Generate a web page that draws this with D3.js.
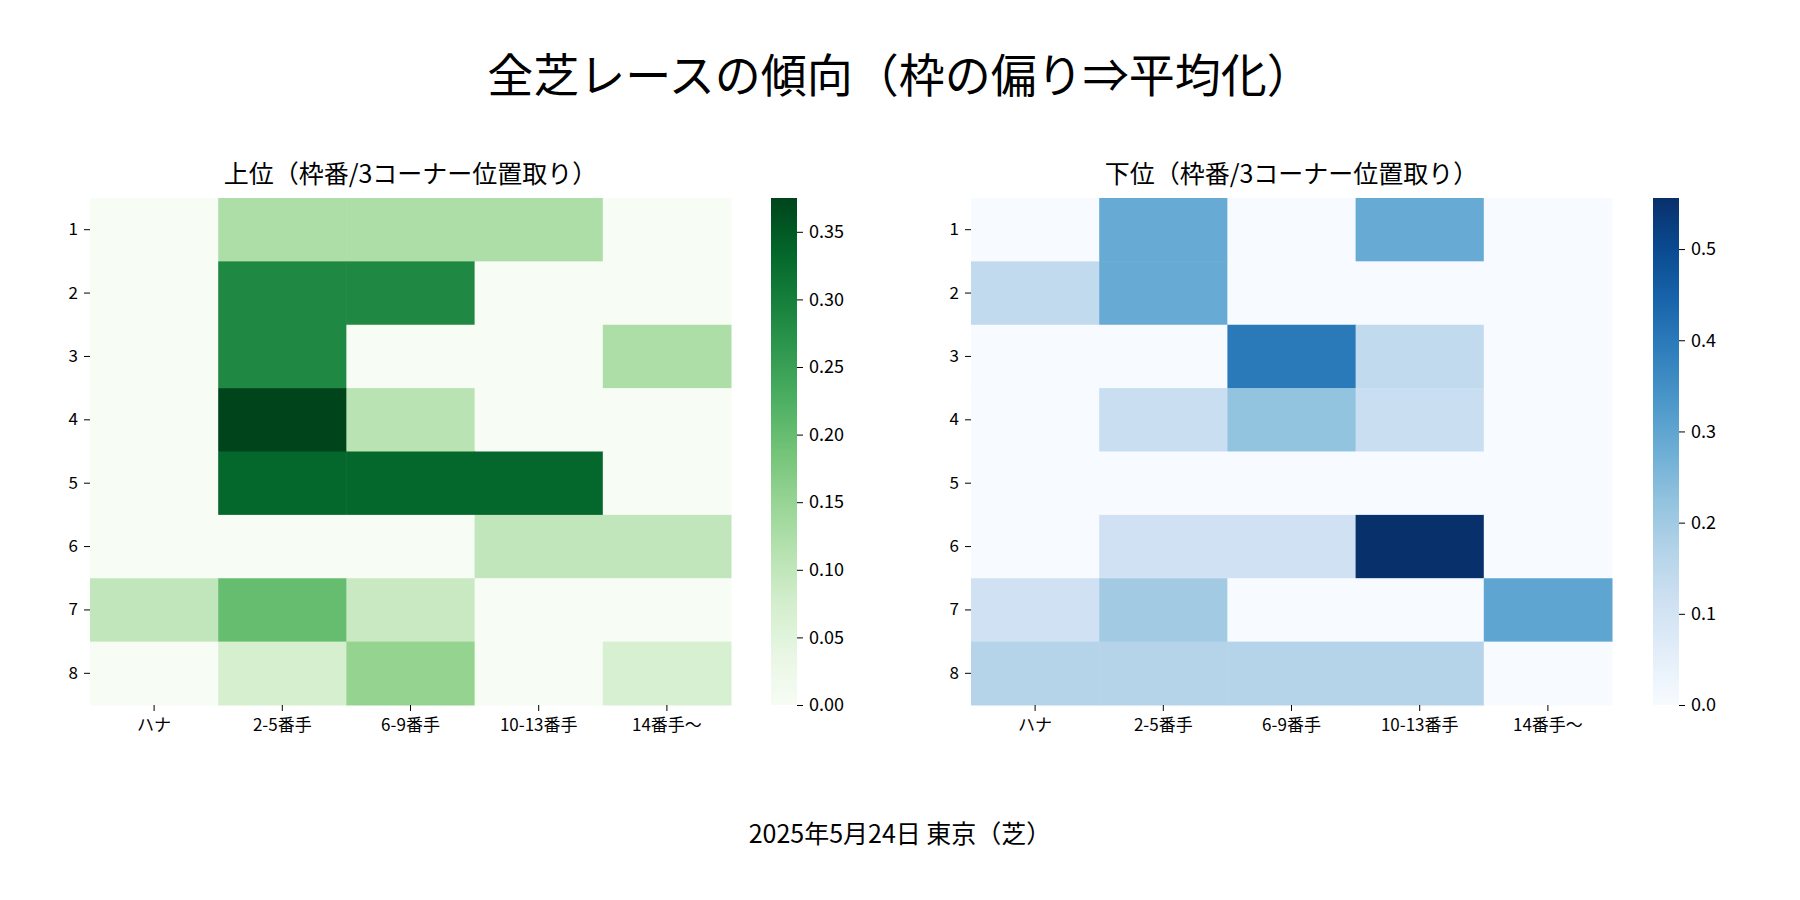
<!DOCTYPE html>
<html><head><meta charset="utf-8">
<script src="https://cdn.jsdelivr.net/npm/d3@7"></script>
<style>body{margin:0;background:#fff}text{font-family:"Noto Sans CJK JP",sans-serif}</style>
</head><body><svg id="chart" width="1800" height="900"></svg>
<script>
// ------ données ------
const rows = ["1","2","3","4","5","6","7","8"]
const cols = ["ハナ","2-5番手","6-9番手","10-13番手","14番手〜"]
const topValues = [
  [0,0.125,0.125,0.125,0],
  [0,0.286,0.286,0,0],
  [0,0.286,0,0,0.125],
  [0,0.375,0.111,0,0],
  [0,0.333,0.333,0.333,0],
  [0,0,0,0.1,0.1],
  [0.1,0.2,0.091,0,0],
  [0,0.071,0.154,0,0.067]
]
const bottomValues = [
  [0,0.286,0,0.286,0],
  [0.143,0.286,0,0,0],
  [0,0,0.4,0.143,0],
  [0,0.125,0.222,0.125,0],
  [0,0,0,0,0],
  [0,0.111,0.111,0.556,0],
  [0.111,0.2,0,0,0.3],
  [0.167,0.167,0.167,0.167,0]
]
const topTicks = [0,0.05,0.1,0.15,0.2,0.25,0.3,0.35]
const bottomTicks = [0,0.1,0.2,0.3,0.4,0.5]

const svg = d3.select("#chart")

svg.append("text").attr("x",900).attr("y",92).attr("text-anchor","middle")
  .attr("font-size",46).text("全芝レースの傾向（枠の偏り⇒平均化）")
svg.append("text").attr("x",900).attr("y",843).attr("text-anchor","middle")
  .attr("font-size",25).text("2025年5月24日 東京（芝）")

function heatmap(x0, cbx, values, interp, ticks, fmt, title) {
  const w = 641, h = 507, y0 = 198
  const x = d3.scaleBand().domain(cols).range([x0, x0 + w])
  const y = d3.scaleBand().domain(rows).range([y0, y0 + h])
  const vmax = d3.max(values.flat())
  const color = d3.scaleSequential(interp).domain([0, vmax])
  const g = svg.append("g")

  values.forEach((r, i) => r.forEach((v, j) => {
    g.append("rect").attr("x", x(cols[j])).attr("y", y(rows[i]))
      .attr("width", x.bandwidth() + 0.5).attr("height", y.bandwidth() + 0.5)
      .attr("fill", color(v))
  }))

  const ax = g.append("g").attr("transform", `translate(0,${y0 + h})`)
    .call(d3.axisBottom(x).tickSize(6).tickPadding(8))
  const ay = g.append("g").attr("transform", `translate(${x0},0)`)
    .call(d3.axisLeft(y).tickSize(6).tickPadding(6))
  ;[ax, ay].forEach(a => {
    a.select(".domain").remove()
    a.selectAll("text").attr("font-size", 17).attr("fill", "#000")
      .style("font-family", '"Noto Sans CJK JP",sans-serif')
  })

  g.append("text").attr("x", x0 + w / 2).attr("y", 183).attr("text-anchor", "middle")
    .attr("font-size", 25).text(title)

  // barre de couleur
  const cw = 26
  const cy = d3.scaleLinear().domain([0, vmax]).range([y0 + h, y0])
  const id = "grad" + x0
  const grad = svg.append("defs").append("linearGradient").attr("id", id)
    .attr("x1", 0).attr("y1", 1).attr("x2", 0).attr("y2", 0)
  d3.range(0, 1.01, 0.1).forEach(t => grad.append("stop")
    .attr("offset", t).attr("stop-color", interp(t)))
  g.append("rect").attr("x", cbx).attr("y", y0).attr("width", cw).attr("height", h)
    .attr("fill", `url(#${id})`)
  const ac = g.append("g").attr("transform", `translate(${cbx + cw},0)`)
    .call(d3.axisRight(cy).tickValues(ticks).tickFormat(d3.format(fmt)).tickSize(6).tickPadding(6))
  ac.select(".domain").remove()
  ac.selectAll("text").attr("font-size", 18).attr("fill", "#000")
    .style("font-family", '"Noto Sans CJK JP",sans-serif')
}

heatmap(90, 771, topValues, d3.interpolateGreens, topTicks, ".2f", "上位（枠番/3コーナー位置取り）")
heatmap(971, 1653, bottomValues, d3.interpolateBlues, bottomTicks, ".1f", "下位（枠番/3コーナー位置取り）")
</script></body></html>
